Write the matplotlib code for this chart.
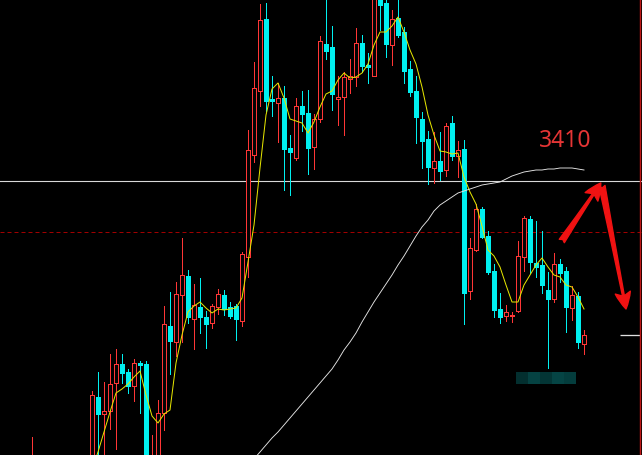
import numpy as np
import matplotlib
matplotlib.use("Agg")
import matplotlib.pyplot as plt
from matplotlib.patches import Rectangle

# candles: index 0 is the lone wick at the far left, 1-9 lie below the view
N = None
opens = [3125, N, N, N, N, N, N, N, N, N,
         3125, 3194, 3177, 3180, 3208, 3227, 3219, 3205, 3228, 3227,
         3115, 3128, 3178, 3265, 3249, 3296, 3315, 3272, 3284, 3274,
         3268, 3284, 3296, 3284, 3285, 3270, 3334, 3436, 3500, 3572,
         3492, 3488, 3493, 3443, 3433, 3485, 3478, 3444, 3472, 3547,
         3544, 3492, 3494, 3512, 3514, 3548, 3526, 3515, 3596, 3588,
         3546, 3573, 3559, 3522, 3500, 3472, 3452, 3423, 3430, 3421,
         3468, 3435, 3442, 3300, 3341, 3382, 3355, 3320, 3282, 3275,
         3275, 3280, 3334, 3372, 3328, 3326, 3301, 3292, 3327, 3320,
         3283, 3295, 3247]
highs = [3154, N, N, N, N, N, N, N, N, N,
         3200, 3219, 3209, 3237, 3242, 3237, 3222, 3232, 3230, 3230,
         3156, 3191, 3285, 3299, 3309, 3353, 3321, 3307, 3313, 3280,
         3287, 3302, 3301, 3289, 3287, 3339, 3461, 3529, 3587, 3588,
         3515, 3508, 3505, 3456, 3493, 3500, 3501, 3477, 3555, 3593,
         3565, 3515, 3519, 3532, 3563, 3556, 3538, 3601, 3601, 3594,
         3581, 3593, 3564, 3530, 3515, 3479, 3460, 3459, 3459, 3468,
         3475, 3450, 3451, 3353, 3387, 3384, 3360, 3327, 3298, 3286,
         3279, 3350, 3375, 3375, 3370, 3360, 3319, 3338, 3332, 3324,
         3305, 3299, 3261]
lows = [3116, N, N, N, N, N, N, N, N, N,
        3118, 3125, 3128, 3162, 3142, 3208, 3198, 3190, 3178, 3118,
        3110, 3122, 3161, 3217, 3235, 3249, 3268, 3242, 3258, 3243,
        3263, 3277, 3276, 3273, 3251, 3265, 3314, 3429, 3485, 3480,
        3475, 3449, 3401, 3396, 3431, 3460, 3417, 3422, 3469, 3532,
        3481, 3466, 3456, 3498, 3505, 3519, 3508, 3515, 3561, 3534,
        3526, 3554, 3508, 3495, 3448, 3423, 3407, 3408, 3411, 3415,
        3431, 3414, 3267, 3292, 3340, 3353, 3317, 3274, 3268, 3270,
        3269, 3279, 3320, 3318, 3314, 3298, 3223, 3289, 3309, 3259,
        3271, 3243, 3237]
closes = [3131, N, N, N, N, N, N, N, N, N,
          3196, 3177, 3180, 3207, 3227, 3218, 3205, 3228, 3226, 3125,
          3132, 3178, 3267, 3250, 3297, 3316, 3274, 3286, 3274, 3267,
          3285, 3297, 3282, 3275, 3272, 3337, 3441, 3503, 3571, 3490,
          3490, 3493, 3442, 3439, 3485, 3477, 3443, 3472, 3550, 3540,
          3497, 3494, 3514, 3515, 3548, 3525, 3524, 3596, 3586, 3547,
          3572, 3556, 3520, 3499, 3474, 3450, 3424, 3430, 3420, 3465,
          3435, 3441, 3298, 3343, 3382, 3354, 3319, 3281, 3274, 3279,
          3276, 3335, 3373, 3329, 3324, 3306, 3292, 3327, 3318, 3284,
          3296, 3249, 3256]

# short moving average (yellow), starts at candle 10
ma_short_start = 10
ma_short = [3121, 3139, 3159, 3179, 3198, 3202, 3207, 3214, 3220, 3196,
            3175, 3168, 3177, 3181, 3228, 3256, 3279, 3285, 3289, 3283,
            3278, 3282, 3281, 3282, 3283, 3293, 3329, 3366, 3423, 3476,
            3502, 3508, 3493, 3472, 3470, 3468, 3458, 3469, 3484, 3497,
            3500, 3511, 3518, 3513, 3514, 3518, 3527, 3546, 3559, 3559,
            3565, 3574, 3559, 3541, 3527, 3504, 3476, 3456, 3440, 3439,
            3437, 3438, 3414, 3399, 3387, 3365, 3341, 3335, 3324, 3306,
            3289, 3289, 3306, 3316, 3326, 3333, 3324, 3316, 3314, 3306,
            3304, 3294, 3282]

# long moving average (white), starts at candle 37
ma_long_start = 37
ma_long = [3132, 3139, 3146, 3153, 3159, 3166, 3173, 3180, 3187, 3194,
           3201, 3208, 3215, 3222, 3231, 3241, 3249, 3258, 3269, 3279,
           3289, 3298, 3307, 3316, 3326, 3335, 3345, 3355, 3364, 3371,
           3380, 3386, 3390, 3394, 3398, 3400, 3402, 3404, 3406, 3407,
           3408, 3409, 3412, 3415, 3417, 3419, 3420, 3421, 3421, 3422,
           3422, 3423, 3423, 3423, 3422, 3421]

level_line = 3410
dashed_line = 3359
label_text = "3410"

# hand-drawn arrows (tail, tip) in (bar index, price)
arrow_up = [(88.3, 3350), (94.8, 3408)]
arrow_down = [(95.0, 3405), (99.0, 3282)]

# blurred watermark blocks
mosaic_colors = ['#032f2f', '#054242', '#033535', '#054444', '#043d3d']

RED = '#ff3636'
CYAN = '#00f0f0'
PX = 0.72  # one pixel in points at 100 dpi

fig = plt.figure(figsize=(6.42, 4.55), dpi=100, facecolor='black')
ax = fig.add_axes([0, 0, 1, 1])
ax.set_facecolor('#030303')
ax.set_xlim(-32 / 6, 610 / 6)
ax.set_ylim(3136, 3591)
ax.axis('off')

ax.axhline(level_line, color='#d8d8d8', lw=1.1 * PX, zorder=1)
ax.axhline(dashed_line, color='#a00000', lw=PX, dashes=(4, 3), zorder=1)

w = 0.65
for i in range(len(opens)):
    o, h, l, c = opens[i], highs[i], lows[i], closes[i]
    if o is None:
        continue
    top, bot = max(o, c), min(o, c)
    hgt = max(top - bot, 1.0)
    if c >= o:
        ax.vlines(i, top, h, color=RED, lw=PX, antialiased=False, zorder=3)
        ax.vlines(i, l, bot, color=RED, lw=PX, antialiased=False, zorder=3)
        ax.add_patch(Rectangle((i - w / 2, bot), w, hgt, facecolor='#030303',
                               edgecolor=RED, lw=PX, antialiased=False, zorder=3))
    else:
        ax.vlines(i, l, h, color=CYAN, lw=PX, antialiased=False, zorder=3)
        ax.add_patch(Rectangle((i - w / 2, bot), w, hgt, facecolor=CYAN,
                               edgecolor=CYAN, lw=PX, antialiased=False, zorder=3))

xs = np.arange(ma_short_start, ma_short_start + len(ma_short))
ax.plot(xs, ma_short, color='#e6e600', lw=PX, zorder=4)
xl = np.arange(ma_long_start, ma_long_start + len(ma_long))
ax.plot(xl, ma_long, color='#e6e6e6', lw=0.9 * PX, zorder=4)

# last price marker on the right edge
ax.hlines(closes[-1], 98, 101.4, color='#e0e0e0', lw=1.3 * PX, zorder=4)
ax.axvline(101.4, color='#c01818', lw=1.4 * PX, zorder=4)

for k, col in enumerate(mosaic_colors):
    ax.add_patch(Rectangle((80.7 + 2 * k, 3207), 2, 12, facecolor=col,
                           edgecolor='none', zorder=5))

for tail, tip in (arrow_up, arrow_down):
    ax.annotate('', xy=tip, xytext=tail,
                arrowprops=dict(arrowstyle='fancy,head_length=0.6,head_width=0.55,tail_width=0.22',
                                color='#f01212', shrinkA=0, shrinkB=0,
                                mutation_scale=20),
                zorder=6)

ax.text(88.8, 3450, label_text, color='#e53535', fontsize=16.5,
        family='Noto Sans', ha='center', va='center', zorder=6)

fig.savefig('out.png', dpi=100, facecolor='black')
